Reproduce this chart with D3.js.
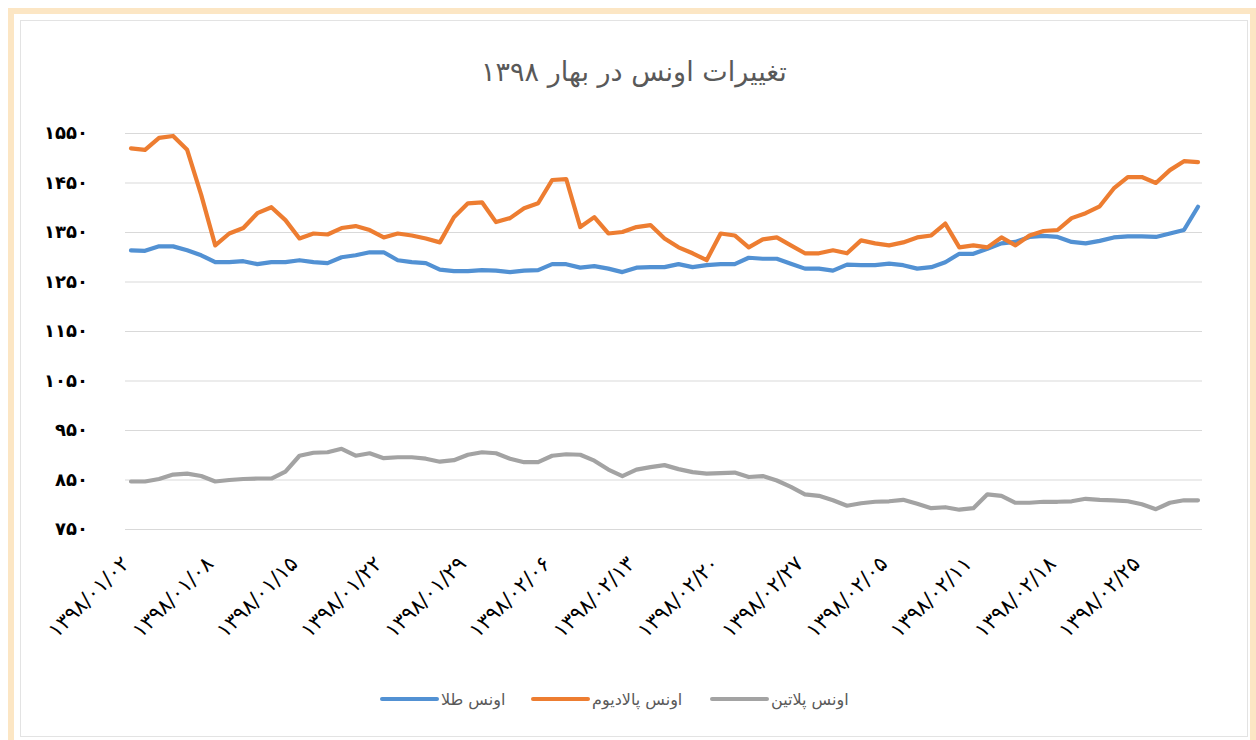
<!DOCTYPE html>
<html>
<head>
<meta charset="utf-8">
<script src="https://d3js.org/d3.v7.min.js"></script>
<style>
    body { margin: 0; background: #fff; }
    svg text { font-family: "DejaVu Sans", sans-serif; }
</style>
</head>
<body>
<svg width="1256" height="740"></svg>
<script>
    // x category labels (one every 6 points)
    var dateLabels = ["۱۳۹۸/۰۱/۰۲", "۱۳۹۸/۰۱/۰۸", "۱۳۹۸/۰۱/۱۵", "۱۳۹۸/۰۱/۲۲", "۱۳۹۸/۰۱/۲۹",
        "۱۳۹۸/۰۲/۰۶", "۱۳۹۸/۰۲/۱۳", "۱۳۹۸/۰۲/۲۰", "۱۳۹۸/۰۲/۲۷", "۱۳۹۸/۰۲/۰۵",
        "۱۳۹۸/۰۲/۱۱", "۱۳۹۸/۰۲/۱۸", "۱۳۹۸/۰۲/۲۵"];
    var yTicks = [750, 850, 950, 1050, 1150, 1250, 1350, 1450, 1550];

    // اونس طلا
    var gold = [1313, 1312, 1321, 1321, 1313, 1303, 1289, 1289, 1291, 1285,
        1289, 1289, 1293, 1289, 1287, 1299, 1303, 1309, 1309, 1293,
        1289, 1287, 1274, 1271, 1271, 1273, 1272, 1269, 1272, 1273,
        1285, 1285, 1278, 1281, 1276, 1269, 1278, 1279, 1279, 1285,
        1279, 1283, 1285, 1285, 1298, 1296, 1296, 1286, 1276, 1276,
        1272, 1284, 1283, 1283, 1286, 1283, 1276, 1279, 1289, 1306,
        1306, 1316, 1327, 1330, 1340, 1342, 1340, 1330, 1327, 1332,
        1339, 1341, 1341, 1340, 1347, 1354, 1401];
    // اونس پالادیوم
    var palladium = [1519, 1516, 1540, 1544, 1516, 1425, 1323, 1347, 1358, 1388,
        1400, 1374, 1337, 1347, 1345, 1358, 1362, 1354, 1339, 1347,
        1343, 1337, 1329, 1380, 1408, 1410, 1370, 1378, 1398, 1408,
        1455, 1457, 1360, 1380, 1347, 1350, 1360, 1364, 1337, 1319,
        1307, 1293, 1347, 1343, 1319, 1335, 1339, 1323, 1307, 1307,
        1313, 1307, 1333, 1327, 1323, 1329, 1339, 1343, 1367, 1319,
        1323, 1319, 1339, 1323, 1343, 1352, 1354, 1378, 1388, 1402,
        1438, 1461, 1461, 1449, 1475, 1493, 1491];
    // اونس پلاتین
    var platinum = [846, 846, 851, 860, 862, 857, 846, 849, 851, 852,
        852, 866, 898, 904, 905, 912, 898, 903, 893, 895,
        895, 892, 886, 889, 900, 905, 903, 892, 885, 885,
        898, 901, 900, 888, 870, 857, 870, 875, 879, 871,
        865, 862, 863, 864, 855, 857, 848, 835, 820, 817,
        808, 797, 802, 805, 806, 809, 801, 792, 794, 789,
        792, 820, 817, 803, 803, 805, 805, 806, 811, 809,
        808, 806, 800, 790, 803, 808, 808];

    var seriesNames = ["اونس طلا", "اونس پالادیوم", "اونس پلاتین"];
    var seriesColors = ["#5291D3", "#ED7D31", "#A3A3A3"];
    var series = [gold, palladium, platinum];

    function fa(s) {
        return String(s).replace(/\d/g, function(d) { return "۰۱۲۳۴۵۶۷۸۹"[d]; });
    }

    var svg = d3.select("svg");

    // frame
    svg.append("rect").attr("x", 8).attr("y", 8).attr("width", 1248).attr("height", 732)
        .attr("fill", "#FCE6C4");
    svg.append("rect").attr("x", 14).attr("y", 14).attr("width", 1236).attr("height", 726)
        .attr("fill", "#fff");
    svg.append("rect").attr("x", 20.5).attr("y", 20.5).attr("width", 1227).attr("height", 716)
        .attr("fill", "none").attr("stroke", "#e3e3e3");

    var x = d3.scaleLinear().domain([0, gold.length - 1]).range([131, 1198]);
    var y = d3.scaleLinear().domain([750, 1550]).range([529, 133]);

    // title
    svg.append("text")
        .attr("x", 634).attr("y", 81)
        .attr("text-anchor", "middle")
        .attr("fill", "#595959")
        .attr("font-size", 27)
        .text("تغییرات اونس در بهار ۱۳۹۸");

    // y grid + labels
    var yAxis = svg.append("g")
        .attr("transform", "translate(125,0)")
        .call(d3.axisLeft(y).tickValues(yTicks).tickSize(-1077).tickPadding(37)
            .tickFormat(function(d) { return fa(d); }));
    yAxis.select(".domain").remove();
    yAxis.selectAll("line").attr("stroke", "#d9d9d9");
    yAxis.selectAll("text").attr("fill", "#000").attr("font-size", 18).attr("font-weight", "bold");

    // x labels
    var xAxis = svg.append("g")
        .attr("transform", "translate(0,529)")
        .call(d3.axisBottom(x).tickValues(d3.range(0, gold.length, 6)).tickSize(0)
            .tickFormat(function(d) { return dateLabels[d / 6]; }));
    xAxis.select(".domain").remove();
    xAxis.selectAll("text")
        .attr("fill", "#000")
        .attr("font-size", 21)
        .attr("text-anchor", "end")
        .attr("dy", 0)
        .attr("y", 0)
        .attr("transform", "translate(-1,36) rotate(-45)");

    // lines
    var line = d3.line()
        .x(function(d, i) { return x(i); })
        .y(function(d) { return y(d); });

    svg.selectAll(".series")
        .data(series)
        .enter().append("path")
        .attr("class", "series")
        .attr("fill", "none")
        .attr("stroke", function(d, i) { return seriesColors[i]; })
        .attr("stroke-width", 4.2)
        .attr("stroke-linejoin", "round")
        .attr("stroke-linecap", "round")
        .attr("d", line);

    // legend
    var legendX = [382, 533, 712];
    var legend = svg.selectAll(".legend")
        .data(seriesNames)
        .enter().append("g")
        .attr("class", "legend")
        .attr("transform", function(d, i) { return "translate(" + legendX[i] + ",699)"; });
    legend.append("line")
        .attr("x1", 0).attr("x2", 55)
        .attr("stroke", function(d, i) { return seriesColors[i]; })
        .attr("stroke-width", 4)
        .attr("stroke-linecap", "round");
    legend.append("text")
        .attr("x", 59).attr("dy", "0.35em")
        .attr("fill", "#595959")
        .attr("font-size", 16)
        .attr("direction", "rtl")
        .attr("text-anchor", "end")
        .text(function(d) { return d; });
</script>
</body>
</html>
